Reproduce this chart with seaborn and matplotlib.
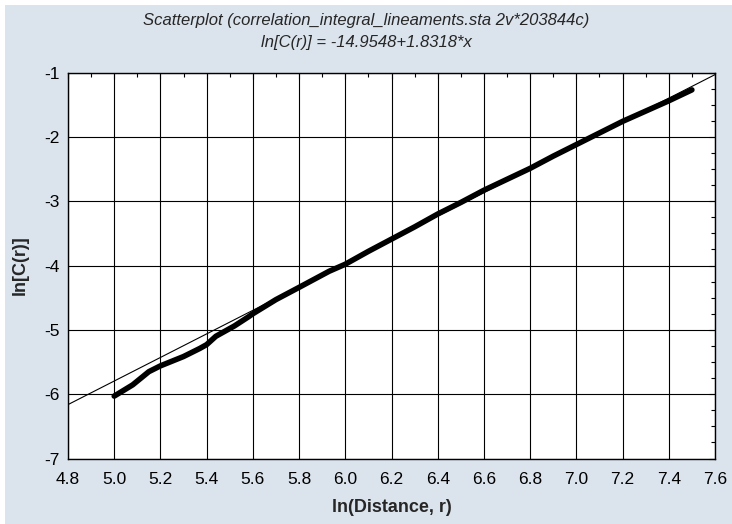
import matplotlib
matplotlib.use("Agg")
import matplotlib.pyplot as plt
import numpy as np
import pandas as pd
import seaborn as sns
from matplotlib.patches import Rectangle
from matplotlib.ticker import MultipleLocator

# ln(r) vs ln(C(r))
ln_r = [5.00, 5.08, 5.15, 5.20, 5.30, 5.37, 5.40, 5.44, 5.52, 5.58, 5.60, 5.70,
        5.80, 5.93, 6.00, 6.10, 6.20, 6.30, 6.40, 6.50, 6.60, 6.70, 6.80, 6.90,
        7.00, 7.10, 7.20, 7.30, 7.40, 7.50]
ln_c = [-6.03, -5.855, -5.65, -5.56, -5.415, -5.29, -5.23, -5.10, -4.94, -4.80, -4.75, -4.53,
        -4.34, -4.09, -3.98, -3.78, -3.59, -3.40, -3.20, -3.02, -2.83, -2.66, -2.49, -2.30,
        -2.12, -1.94, -1.76, -1.60, -1.44, -1.27]

# fitted line from the title
fit_intercept = -14.9548
fit_slope = 1.8318

title_lines = ["Scatterplot (correlation_integral_lineaments.sta 2v*203844c)",
               "ln[C(r)] = -14.9548+1.8318*x"]
x_label = "ln(Distance, r)"
y_label = "ln[C(r)]"

bg = "#dbe3ec"

sns.set_style("white")
plt.rcParams['font.family'] = ['Liberation Sans', 'DejaVu Sans']
plt.rcParams['axes.unicode_minus'] = False

df = pd.DataFrame({"ln_r": ln_r, "ln_c": ln_c})

fig = plt.figure(figsize=(7.32, 5.24), dpi=100, facecolor="white")
fig.add_artist(Rectangle((5 / 732, 0), 1, 1 - 5 / 524, transform=fig.transFigure,
                         facecolor=bg, edgecolor="none", zorder=-10))
ax = fig.add_axes([68 / 732, 1 - 458.5 / 524, 647 / 732, 386 / 524])
ax.set_facecolor("white")

sns.lineplot(data=df, x="ln_r", y="ln_c", color="black", linewidth=4, ax=ax,
             solid_capstyle="round", zorder=3)
ax.axline((0, fit_intercept), slope=fit_slope, color="black", linewidth=0.8, zorder=4)

ax.set_xlim(4.8, 7.6)
ax.set_ylim(-7, -1)
ax.xaxis.set_major_locator(MultipleLocator(0.2))
ax.xaxis.set_minor_locator(MultipleLocator(0.1))
ax.yaxis.set_major_locator(MultipleLocator(1))
ax.yaxis.set_minor_locator(MultipleLocator(0.25))
ax.set_xticklabels([f"{v:.1f}" for v in ax.get_xticks()])
ax.grid(True, which="major", color="black", linewidth=0.8)
ax.set_axisbelow(True)
ax.tick_params(which="both", direction="in", top=True, right=True, colors="black",
               labelsize=12.5)
ax.tick_params(which="major", length=4, width=0.8)
ax.tick_params(which="minor", length=3, width=0.8)
ax.tick_params(axis="x", pad=10)
ax.tick_params(axis="y", pad=6)
for s in ax.spines.values():
    s.set_color("black")
    s.set_linewidth(1)

ax.set_xlabel(x_label, fontsize=13, fontweight="bold")
ax.set_ylabel(y_label, fontsize=13, fontweight="bold")
ax.xaxis.set_label_coords(0.5, -0.105)
ax.yaxis.set_label_coords(-0.06, 0.5)

fig.text(0.5, 1 - 20 / 524, title_lines[0], ha="center", va="center",
         fontsize=12, style="italic")
fig.text(0.5, 1 - 42 / 524, title_lines[1], ha="center", va="center",
         fontsize=12, style="italic")

fig.savefig("out.png", dpi=100, facecolor=fig.get_facecolor())
